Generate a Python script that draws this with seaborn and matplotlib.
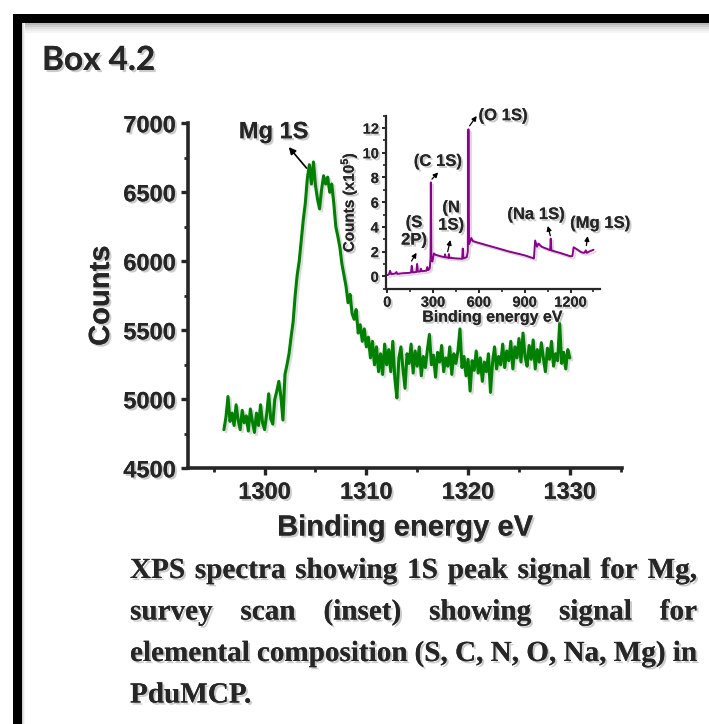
import numpy as np
import matplotlib
matplotlib.use('Agg')
import matplotlib.pyplot as plt
import matplotlib.patheffects as pe
from matplotlib.patches import Rectangle
from matplotlib.ticker import MultipleLocator
import seaborn as sns

# --- Mg 1S high resolution scan (main panel), 0.2 eV steps 1296-1330 ---
mg_counts = [
    4780, 4870, 5020, 4840, 4900, 4810, 4960, 4850, 4780, 4920, 4830, 4880, 4770,
    4930, 4840, 4760, 4900, 4810, 4960, 4830, 4780, 4890, 5040, 4860, 4820, 5000,
    5060, 5130, 5020, 4850, 5180, 5250, 5330, 5450, 5560, 5750,
    5900, 6000, 6150, 6300, 6420,
    6600, 6700, 6560, 6720, 6550, 6450, 6380, 6520, 6620, 6560, 6610, 6500, 6560, 6420,
    6250, 6180, 6100, 5980, 5900, 5820, 5700, 5760, 5620, 5580, 5650, 5480, 5540,
    5420, 5510, 5380, 5450, 5300, 5420, 5250, 5380, 5200,
    5330, 5180, 5400, 5250, 5360, 5200, 5420, 5150, 5010, 5300, 5380, 5220, 5080,
    5330, 5260, 5400, 5190, 5350, 5240, 5380, 5170, 5310, 5230, 5360, 5470, 5250,
    5320, 5160, 5340, 5270, 5390, 5200, 5300, 5240, 5380, 5180, 5330, 5260, 5350,
    5510, 5230, 5310, 5170, 5290, 5060, 5280, 5210, 5350, 5190, 5300, 5130, 5270,
    5200, 5330, 5050, 5260, 5380, 5220, 5310, 5250, 5400, 5230, 5350, 5280, 5420,
    5220, 5380, 5300, 5440, 5270, 5480, 5310, 5240, 5390, 5290, 5430, 5220, 5360,
    5270, 5410, 5300, 5200, 5370, 5290, 5420, 5240, 5330, 5280, 5550, 5260, 5340,
    5220, 5360, 5300,
]
mg_energy = np.linspace(1296.0, 1330.0, len(mg_counts))

# --- survey scan (inset), counts in units of 10^5 ---
survey_energy = [0, 10, 18, 25, 50, 60, 65, 100, 140, 155, 160, 165, 190, 195, 200,
                 215, 220, 225, 255, 262, 268, 278, 283, 285, 288, 295, 305, 315,
                 350, 375, 378, 381, 400, 403, 406, 450, 490, 494, 498, 520, 527,
                 531, 535, 550, 560, 600, 700, 800, 900, 960, 968, 980, 990, 1010,
                 1066, 1070, 1074, 1130, 1200, 1212, 1220, 1240, 1270, 1290, 1300,
                 1305, 1330, 1350]
survey_counts = [0.10, 0.15, 0.45, 0.18, 0.22, 0.35, 0.20, 0.25, 0.28, 0.30, 0.85,
                 0.32, 0.35, 1.00, 0.38, 0.40, 0.62, 0.42, 0.45, 0.75, 0.50, 0.65,
                 1.50, 7.60, 1.30, 1.20, 1.85, 1.75, 1.62, 1.55, 1.78, 1.55, 1.50,
                 1.80, 1.50, 1.45, 1.42, 2.25, 1.45, 1.55, 2.00, 11.90, 2.60, 3.10,
                 2.85, 2.70, 2.35, 2.00, 1.70, 1.45, 2.90, 2.40, 2.65, 2.40, 2.12,
                 3.05, 2.10, 1.90, 1.62, 1.65, 2.35, 2.20, 1.95, 1.90, 2.10, 1.90,
                 2.05, 2.15]

main_ticks = [1300, 1310, 1320, 1330]
count_ticks = [4500, 5000, 5500, 6000, 6500, 7000]
survey_xticks = [0, 300, 600, 900, 1200]
survey_yticks = [0, 2, 4, 6, 8, 10, 12]

peak_labels = ['(S\n2P)', '(C 1S)', '(N\n1S)', '(O 1S)', '(Na 1S)', '(Mg 1S)']

caption_lines = [
    'XPS spectra showing 1S peak signal for Mg,',
    'survey scan (inset) showing signal for',
    'elemental composition (S, C, N, O, Na, Mg) in',
    'PduMCP.',
]

sns.set_theme(style='ticks')
plt.rcParams['font.family'] = ['Liberation Sans', 'DejaVu Sans']
plt.rcParams['font.weight'] = 'bold'
plt.rcParams['axes.labelweight'] = 'bold'
plt.rcParams['mathtext.fontset'] = 'custom'
plt.rcParams['mathtext.rm'] = 'Liberation Sans:bold'
plt.rcParams['mathtext.bf'] = 'Liberation Sans:bold'

W, H = 709, 724
def fx(x):
    return x / W
def fy(y):
    return 1 - y / H

shadow = [pe.withSimplePatchShadow(offset=(1.5, -1.5), shadow_rgbFace='0.55', alpha=0.45), pe.Normal()]
line_shadow = [pe.SimpleLineShadow(offset=(1.5, -1.5), shadow_color='0.6', alpha=0.35), pe.Normal()]

fig = plt.figure(figsize=(W / 100, H / 100), dpi=100, facecolor='white')

# --- frame with soft shadow ---
for k, g in enumerate(['0.72', '0.8', '0.87', '0.92', '0.96']):
    y0 = 23 + 2 * k
    fig.add_artist(Rectangle((fx(22), fy(y0 + 2)), 1, fy(y0) - fy(y0 + 2),
                             transform=fig.transFigure, color=g, lw=0))
for k, g in enumerate(['0.8', '0.9', '0.96']):
    x0 = 22 + k
    fig.add_artist(Rectangle((fx(x0), 0), fx(1), fy(23), transform=fig.transFigure,
                             color=g, lw=0))
fig.add_artist(Rectangle((fx(13), fy(23)), 1, fy(14) - fy(23), transform=fig.transFigure,
                         color='black', lw=0))
fig.add_artist(Rectangle((fx(13), 0), fx(22) - fx(13), fy(14), transform=fig.transFigure,
                         color='black', lw=0))

fig.text(fx(42), fy(70), 'Box 4.2', family=['Lato', 'DejaVu Sans'], fontsize=24,
         fontweight='bold', va='baseline', ha='left', path_effects=shadow)

# --- main panel ---
ax = fig.add_axes([fx(188.3), fy(468.3), fx(621.7) - fx(188.3), fy(123.3) - fy(468.3)])
ax.set_facecolor('none')
sns.lineplot(x=mg_energy, y=mg_counts, ax=ax, color='#008000', lw=2.2)
for ln in ax.lines:
    ln.set_path_effects(line_shadow)
ax.set_xlim(1292.5, 1335.1)
ax.set_ylim(4500, 7000)
ax.set_xticks(main_ticks)
ax.set_yticks(count_ticks)
ax.xaxis.set_minor_locator(MultipleLocator(5))
ax.yaxis.set_minor_locator(MultipleLocator(250))
sns.despine(ax=ax)
for s in ['left', 'bottom']:
    ax.spines[s].set_linewidth(2.6)
ax.tick_params(which='major', direction='out', length=5, width=2.4, labelsize=17, pad=4)
ax.tick_params(which='minor', direction='out', length=3, width=2.0)
ax.set_xlabel('Binding energy eV', fontsize=21, fontweight='bold', labelpad=7)
ax.set_ylabel('Counts', fontsize=21, fontweight='bold', labelpad=6)
for t in ax.get_xticklabels() + ax.get_yticklabels() + [ax.xaxis.label, ax.yaxis.label]:
    t.set_fontweight('bold')
    t.set_path_effects(shadow)

ax.annotate('', xy=(1302.2, 6843), xytext=(1304.3, 6660),
            arrowprops=dict(arrowstyle='-|>', color='black', lw=1.2, mutation_scale=10))
ax.text(1300.9, 6939, 'Mg 1S', fontsize=17, fontweight='bold', ha='center', va='center',
        path_effects=shadow)

# --- inset survey scan ---
ax_in = fig.add_axes([fx(385.8), fy(288.7), fx(599.6) - fx(385.8), fy(115.7) - fy(288.7)])
ax_in.set_facecolor('none')
sns.lineplot(x=survey_energy, y=survey_counts, ax=ax_in, color='#8B008B', lw=1.4)
for ln in ax_in.lines:
    ln.set_path_effects(line_shadow)
ax_in.set_xlim(-10, 1390)
ax_in.set_ylim(-1, 13)
ax_in.set_xticks(survey_xticks)
ax_in.set_yticks(survey_yticks)
ax_in.xaxis.set_minor_locator(MultipleLocator(150))
ax_in.yaxis.set_minor_locator(MultipleLocator(1))
sns.despine(ax=ax_in)
for s in ['left', 'bottom']:
    ax_in.spines[s].set_linewidth(1.6)
ax_in.tick_params(which='major', direction='out', length=3, width=1.4, labelsize=10.5, pad=2)
ax_in.tick_params(which='minor', direction='out', length=2, width=1.2)
ax_in.set_xlabel('Binding energy eV', fontsize=11.5, fontweight='bold', labelpad=0)
ax_in.set_ylabel(r'Counts (x10$^{\mathbf{5}}$)', fontsize=11, fontweight='bold', labelpad=2)
for t in ax_in.get_xticklabels() + ax_in.get_yticklabels() + [ax_in.xaxis.label, ax_in.yaxis.label]:
    t.set_fontweight('bold')
    t.set_path_effects(shadow)

# label text position, arrow head, arrow tail (inset data coords)
label_pos = [(175, 3.64), (331, 9.3), (418, 4.85), (758, 13.0), (974, 5.0), (1394, 4.29)]
arrow_head = [(201, 2.1), (345, 8.58), (417, 3.16), (596, 13.16), (1046, 4.3), (1314, 3.48)]
arrow_tail = [(149, 1.05), (280, 7.7), (391, 1.78), (528, 12.0), (1072, 3.07), (1301, 2.27)]
for lab, p, h, tl in zip(peak_labels, label_pos, arrow_head, arrow_tail):
    ax_in.text(p[0], p[1], lab, fontsize=12, fontweight='bold', ha='center', va='center',
               linespacing=1.2, clip_on=False, path_effects=shadow)
    ax_in.annotate('', xy=h, xytext=tl, annotation_clip=False,
                   arrowprops=dict(arrowstyle='-|>', color='black', lw=0.9, mutation_scale=7))

# --- justified caption ---
renderer = fig.canvas.get_renderer()
left_px, right_px = 130, 697
for i, line in enumerate(caption_lines):
    words = line.split(' ')
    base_y = 578 + i * 41.5
    texts = [fig.text(0, fy(base_y), w, family=['Liberation Serif', 'DejaVu Serif'],
                      fontsize=21, fontweight='bold', va='baseline', ha='left',
                      path_effects=shadow) for w in words]
    widths = [t.get_window_extent(renderer).width for t in texts]
    if i < len(caption_lines) - 1 and len(words) > 1:
        gap = (right_px - left_px - sum(widths)) / (len(words) - 1)
    else:
        gap = 7
    x = left_px
    for t, w in zip(texts, widths):
        t.set_x(fx(x))
        x += w + gap

fig.savefig('out.png', dpi=100, facecolor='white')
